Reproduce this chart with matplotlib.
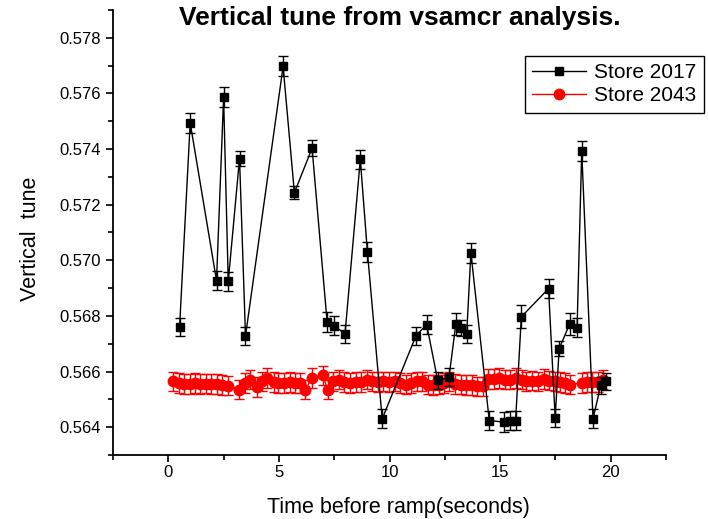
import matplotlib
matplotlib.use("Agg")
import matplotlib.pyplot as plt
from matplotlib.ticker import MultipleLocator, FormatStrFormatter
from matplotlib.lines import Line2D

plt.rcParams['font.family'] = ['Liberation Sans', 'DejaVu Sans']

# Store 2017 (black squares)
t_2017 = [0.51, 0.99, 2.18, 2.50, 2.71, 3.22, 3.49, 5.19, 5.70, 6.50, 7.18,
          7.49, 7.99, 8.68, 9.00, 9.67, 11.20, 11.68, 12.18, 12.69, 13.00,
          13.21, 13.49, 13.68, 14.51, 15.18, 15.45, 15.70, 15.96, 17.19,
          17.49, 17.67, 18.15, 18.48, 18.69, 19.20, 19.55, 19.80]
q_2017 = [0.56760, 0.57494, 0.56927, 0.57586, 0.56924, 0.57366, 0.56728,
          0.57697, 0.57243, 0.57403, 0.56778, 0.56765, 0.56736, 0.57363,
          0.57031, 0.56430, 0.56729, 0.56769, 0.56568, 0.56580, 0.56772,
          0.56757, 0.56736, 0.57027, 0.56424, 0.56418, 0.56424, 0.56424,
          0.56797, 0.56898, 0.56434, 0.56682, 0.56772, 0.56757, 0.57393,
          0.56430, 0.56550, 0.56565]
e_2017 = [0.00033, 0.00036, 0.00033, 0.00036, 0.00033, 0.00026, 0.00032,
          0.00036, 0.00023, 0.00028, 0.00035, 0.00034, 0.00032, 0.00033,
          0.00036, 0.00034, 0.00033, 0.00035, 0.00031, 0.00032, 0.00039,
          0.00030, 0.00033, 0.00035, 0.00035, 0.00035, 0.00033, 0.00033,
          0.00042, 0.00034, 0.00033, 0.00027, 0.00039, 0.00034, 0.00036,
          0.00034, 0.00030, 0.00030]

# Store 2043 (red circles)
t_2043 = [0.21, 0.47, 0.72, 0.96, 1.22, 1.44, 1.70, 1.94, 2.20, 2.44, 2.68,
          3.21, 3.48, 3.70, 4.00, 4.23, 4.48, 4.76, 4.98, 5.24, 5.48, 5.73,
          5.96, 6.20, 6.49, 6.98, 7.21, 7.46, 7.72, 7.96, 8.22, 8.47, 8.71,
          8.97, 9.22, 9.47, 9.72, 9.99, 10.25, 10.47, 10.73, 10.97, 11.23,
          11.48, 11.72, 11.98, 12.22, 12.46, 12.70, 12.96, 13.21, 13.45,
          13.71, 13.97, 14.21, 14.46, 14.72, 14.96, 15.21, 15.47, 15.71,
          15.97, 16.19, 16.46, 16.72, 16.97, 17.22, 17.47, 17.70, 17.94,
          18.18, 18.68, 18.93, 19.17, 19.43, 19.65]
q_2043 = [0.56565, 0.56559, 0.56555, 0.56555, 0.56559, 0.56555, 0.56557,
          0.56555, 0.56555, 0.56551, 0.56549, 0.56535, 0.56559, 0.56571,
          0.56545, 0.56565, 0.56577, 0.56563, 0.56559, 0.56559, 0.56563,
          0.56559, 0.56559, 0.56535, 0.56577, 0.56586, 0.56535, 0.56565,
          0.56571, 0.56563, 0.56559, 0.56563, 0.56563, 0.56571, 0.56565,
          0.56563, 0.56565, 0.56563, 0.56565, 0.56559, 0.56553, 0.56559,
          0.56565, 0.56565, 0.56553, 0.56551, 0.56553, 0.56559, 0.56565,
          0.56555, 0.56553, 0.56551, 0.56551, 0.56547, 0.56547, 0.56574,
          0.56574, 0.56577, 0.56571, 0.56571, 0.56577, 0.56571, 0.56565,
          0.56567, 0.56565, 0.56574, 0.56567, 0.56565, 0.56563, 0.56559,
          0.56553, 0.56559, 0.56563, 0.56563, 0.56563, 0.56571]
e_2043 = [0.00035] * len(t_2043)

fig = plt.figure(figsize=(7.08, 5.19), dpi=100)
ax = fig.add_axes([113/708, 1 - 455/519, (666 - 113)/708, (455 - 10)/519])

ax.errorbar(t_2043, q_2043, yerr=e_2043, color='red', marker='o', ms=7.5,
            lw=1, elinewidth=1, capsize=3.5, capthick=1, zorder=2)
ax.errorbar(t_2017, q_2017, yerr=e_2017, color='black', marker='s', ms=6,
            lw=1, elinewidth=1, capsize=3.5, capthick=1, zorder=3)

ax.set_xlim(-2.5, 22.5)
ax.set_ylim(0.563, 0.579)
ax.xaxis.set_major_locator(MultipleLocator(5))
ax.xaxis.set_minor_locator(MultipleLocator(2.5))
ax.yaxis.set_major_locator(MultipleLocator(0.002))
ax.yaxis.set_minor_locator(MultipleLocator(0.001))
ax.yaxis.set_major_formatter(FormatStrFormatter('%.3f'))

for s in ['top', 'right']:
    ax.spines[s].set_visible(False)
for s in ['left', 'bottom']:
    ax.spines[s].set_linewidth(1.3)
ax.tick_params(which='major', direction='out', length=5, width=1.2,
               labelsize=12)
ax.tick_params(axis='x', which='major', pad=2)
ax.tick_params(which='minor', direction='out', length=3.5, width=1.2)

ax.set_xlabel('Time before ramp(seconds)', fontsize=15.5)
ax.set_ylabel('Vertical  tune', fontsize=15.5)
ax.xaxis.set_label_coords(0.516, -0.095)
ax.yaxis.set_label_coords(-0.130, 0.485)

fig.text(400/708, 1 - 18/519, 'Vertical tune from vsamcr analysis.',
         ha='center', va='center', fontsize=19, fontweight='bold')

handles = [Line2D([], [], color='black', marker='s', ms=6, lw=1),
           Line2D([], [], color='red', marker='o', ms=7.5, lw=1)]
leg = ax.legend(handles, ['Store 2017', 'Store 2043'], loc='upper right',
                bbox_to_anchor=(704/708, 1 - 56/519),
                bbox_transform=fig.transFigure, fontsize=15,
                fancybox=False, edgecolor='black', framealpha=1,
                handlelength=2.6, borderaxespad=0, borderpad=0.35,
                labelspacing=0.2, handletextpad=0.4)
leg.get_frame().set_linewidth(1)

fig.savefig('out.png', dpi=100)
